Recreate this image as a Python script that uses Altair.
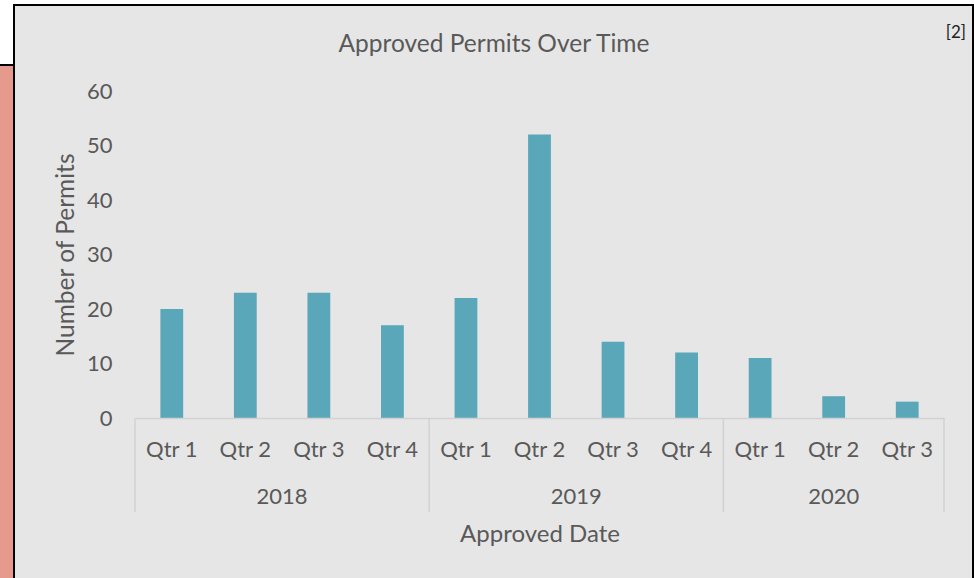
import altair as alt
import pandas as pd

# ---- data ----
years = ["2018", "2018", "2018", "2018", "2019", "2019", "2019", "2019", "2020", "2020", "2020"]
quarters = ["Qtr 1", "Qtr 2", "Qtr 3", "Qtr 4", "Qtr 1", "Qtr 2", "Qtr 3", "Qtr 4", "Qtr 1", "Qtr 2", "Qtr 3"]
permits = [20, 23, 23, 17, 22, 52, 14, 12, 11, 4, 3]
y_ticks = [0, 10, 20, 30, 40, 50, 60]
chart_title = "Approved Permits Over Time"

keys = [f"{y}|{q}" for y, q in zip(years, quarters)]
df = pd.DataFrame({"key": keys, "year": years, "quarter": quarters, "permits": permits})
df["idx"] = range(len(df))

grp = df.groupby("year", sort=False)["idx"].agg(["min", "max"]).reset_index()
year_df = pd.DataFrame({"year": grp["year"], "center": (grp["min"] + grp["max"] + 1) / 2})
sep_df = pd.DataFrame({"pos": list(grp["min"]) + [len(df)]})

# ---- layout ----
LEFT, TOP = 135, 91
W, H = 809, 327
FONT = "Lato"
TXT = "#595959"
BAR = "#5aa7b9"
GRAY = "#e6e6e6"
LINE = "#d2d2d2"

dummy = pd.DataFrame({"a": [0]})

def px(v):
    return alt.value(v - LEFT)

def py(v):
    return alt.value(v - TOP)

background = alt.Chart(dummy).mark_rect(color=GRAY, stroke="black", strokeWidth=2).encode(
    x=px(14), x2=px(973), y=py(5), y2=py(640)
)
pink = alt.Chart(dummy).mark_rect(color="#e59a8d").encode(
    x=px(-5), x2=px(13), y=py(66), y2=py(640)
)
white = alt.Chart(dummy).mark_rect(color="white").encode(
    x=px(-5), x2=px(13), y=py(-5), y2=py(64)
)
hline = alt.Chart(dummy).mark_rule(color="black", strokeWidth=2).encode(
    x=px(0), x2=px(15), y=py(65)
)
note = alt.Chart(dummy).mark_text(
    text="[2]", font=FONT, fontSize=17, color="#222222", align="right", baseline="middle"
).encode(x=px(966), y=py(33))
title = alt.Chart(dummy).mark_text(
    text=chart_title, font=FONT, fontSize=24.5, color=TXT, align="center", baseline="middle"
).encode(x=px(494), y=py(45))

bars = alt.Chart(df).mark_bar(color=BAR).encode(
    x=alt.X(
        "key:N",
        sort=keys,
        scale=alt.Scale(paddingInner=0.69, paddingOuter=0.345),
        axis=alt.Axis(
            title="Approved Date",
            labelExpr="split(datum.value, '|')[1]",
            labelAngle=0,
            ticks=False,
            domainColor=LINE,
            domainWidth=1.5,
            labelPadding=21,
            titleY=116,
            titleBaseline="middle",
            titleFontSize=24,
            zindex=1,
        ),
    ),
    y=alt.Y(
        "permits:Q",
        scale=alt.Scale(domain=[0, 60], nice=False),
        axis=alt.Axis(
            values=y_ticks,
            grid=False,
            domain=False,
            ticks=False,
            labelPadding=23,
            title="Number of Permits",
            titleX=-69,
            titleBaseline="middle",
            titleFontSize=24.5,
            zindex=1,
        ),
    ),
)

xq = alt.Scale(domain=[0, len(df)], nice=False, zero=False)

seps = alt.Chart(sep_df).mark_rule(color=LINE, strokeWidth=1.5).encode(
    x=alt.X("pos:Q", scale=xq, axis=None),
    y=alt.value(H),
    y2=alt.value(421),
)

year_text = alt.Chart(year_df).mark_text(
    font=FONT, fontSize=22, color=TXT, baseline="middle"
).encode(
    x=alt.X("center:Q", scale=xq, axis=None),
    y=alt.value(406),
    text="year:N",
)

chart = (
    alt.layer(background, pink, white, hline, note, title, bars, seps, year_text)
    .resolve_scale(x="independent")
    .properties(
        width=W,
        height=H,
        padding={"left": LEFT, "top": TOP, "right": 974 - LEFT - W, "bottom": 578 - TOP - H},
        autosize=alt.AutoSizeParams(type="none"),
    )
    .configure(background="white")
    .configure_view(stroke=None)
    .configure_axis(
        zindex=1,
        labelFont=FONT,
        labelFontSize=22,
        labelColor=TXT,
        titleFont=FONT,
        titleFontWeight="normal",
        titleColor=TXT,
    )
)

chart.save("out.html", embed_options={"renderer": "svg", "actions": False})
